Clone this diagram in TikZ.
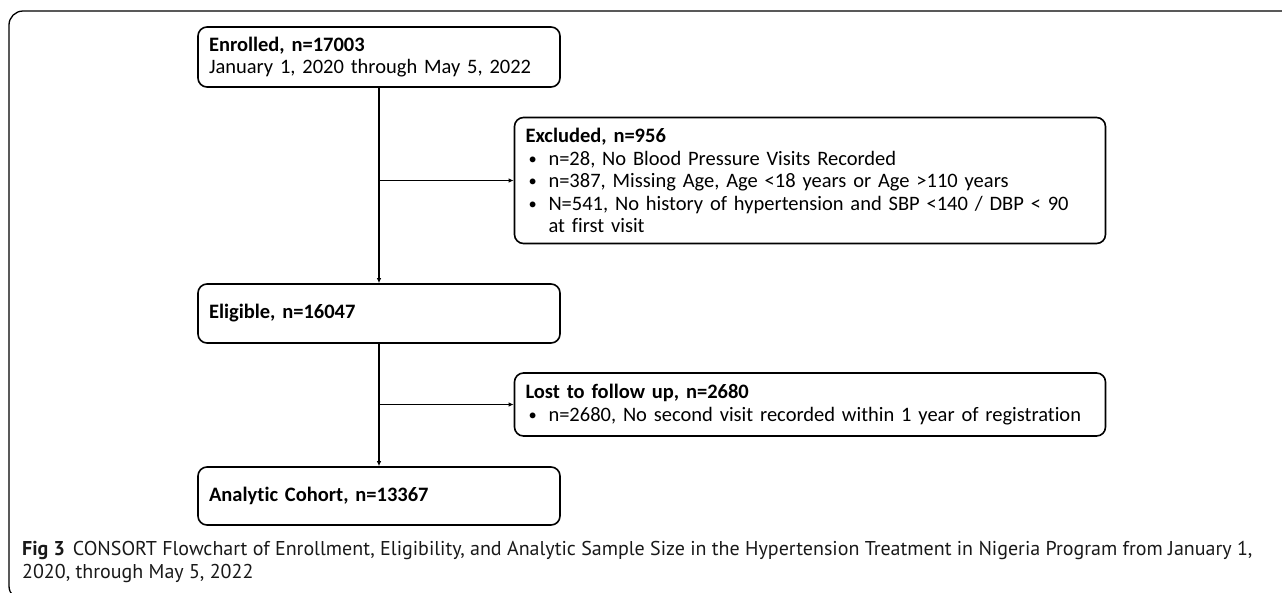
\documentclass[tikz,border=0pt]{standalone}
\usepackage{fontspec}
\setmainfont{Carlito}[Ligatures=NoCommon]
\newfontfamily\capfont{PT Sans}
\usetikzlibrary{arrows.meta}

\newcommand{\bitem}{\hspace*{3pt}\makebox[20pt][l]{\raisebox{1pt}{\scalebox{0.8}{\textbullet}}}}

\tikzset{
  flowbox/.style={draw, line width=1.6pt, rounded corners=9pt, align=left,
    inner xsep=11pt, inner ysep=0pt, font=\fontsize{20.5}{22.6}\selectfont},
  flowline/.style={line width=1.5pt},
  flowarrow/.style={line width=1.6pt, -{Latex[length=5pt,width=4.5pt]}},
  frameline/.style={line width=1.3pt, rounded corners=14pt},
  captext/.style={anchor=base west, inner sep=0pt, text=black!90, font=\capfont\fontsize{20}{22}\selectfont},
}

\begin{document}
\begin{tikzpicture}[x=1pt, y=-1pt]
\useasboundingbox (0,0) rectangle (1282,592);

% outer frame
\begin{scope}
\clip (0,0) rectangle (1282,592);
\draw[frameline] (9,11) rectangle (1310,600);
\end{scope}

% main column
\node (enrolled) [flowbox, text width=340pt, minimum height=60pt] at (379,57)
  {\textbf{Enrolled, n=17003}\\January 1, 2020 through May 5, 2022};
\node (eligible) [flowbox, text width=340pt, minimum height=59pt] at (379,313.5)
  {\textbf{Eligible, n=16047}};
\node (analytic) [flowbox, text width=340pt, minimum height=58pt] at (379,496)
  {\textbf{Analytic Cohort, n=13367}};

% side boxes
\node (excluded) [flowbox, text width=569pt, minimum height=126pt] at (810,180.5)
  {\textbf{Excluded, n=956}\\
   \bitem n=28, No Blood Pressure Visits Recorded\\
   \bitem n=387, Missing Age, Age <18 years or Age >110 years\\
   \bitem \mbox{N=541, No history of hypertension and SBP <140 / DBP < 90}\\
   \hspace*{23pt}at first visit};
\node (lost) [flowbox, text width=569pt, minimum height=63pt] at (810,404.5)
  {\textbf{Lost to follow up, n=2680}\\
   \bitem \mbox{n=2680, No second visit recorded within 1 year of registration}};

% connectors
\draw[flowarrow] (enrolled.south) -- (eligible.north);
\draw[flowarrow] (eligible.south) -- (analytic.north);
\draw[flowarrow] (enrolled.south |- excluded.west) -- (excluded.west);
\draw[flowarrow] (eligible.south |- lost.west) -- (lost.west);

% caption
\node (capA) [captext] at (22,555)
  {\textbf{Fig 3}\hspace{8pt}CONSORT Flowchart of Enrollment, Eligibility, and Analytic Sample Size in the Hypertension Treatment in Nigeria Program from January 1,};
\node (capB) [captext] at (22,578)
  {2020, through May 5, 2022};
\end{tikzpicture}
\end{document}
